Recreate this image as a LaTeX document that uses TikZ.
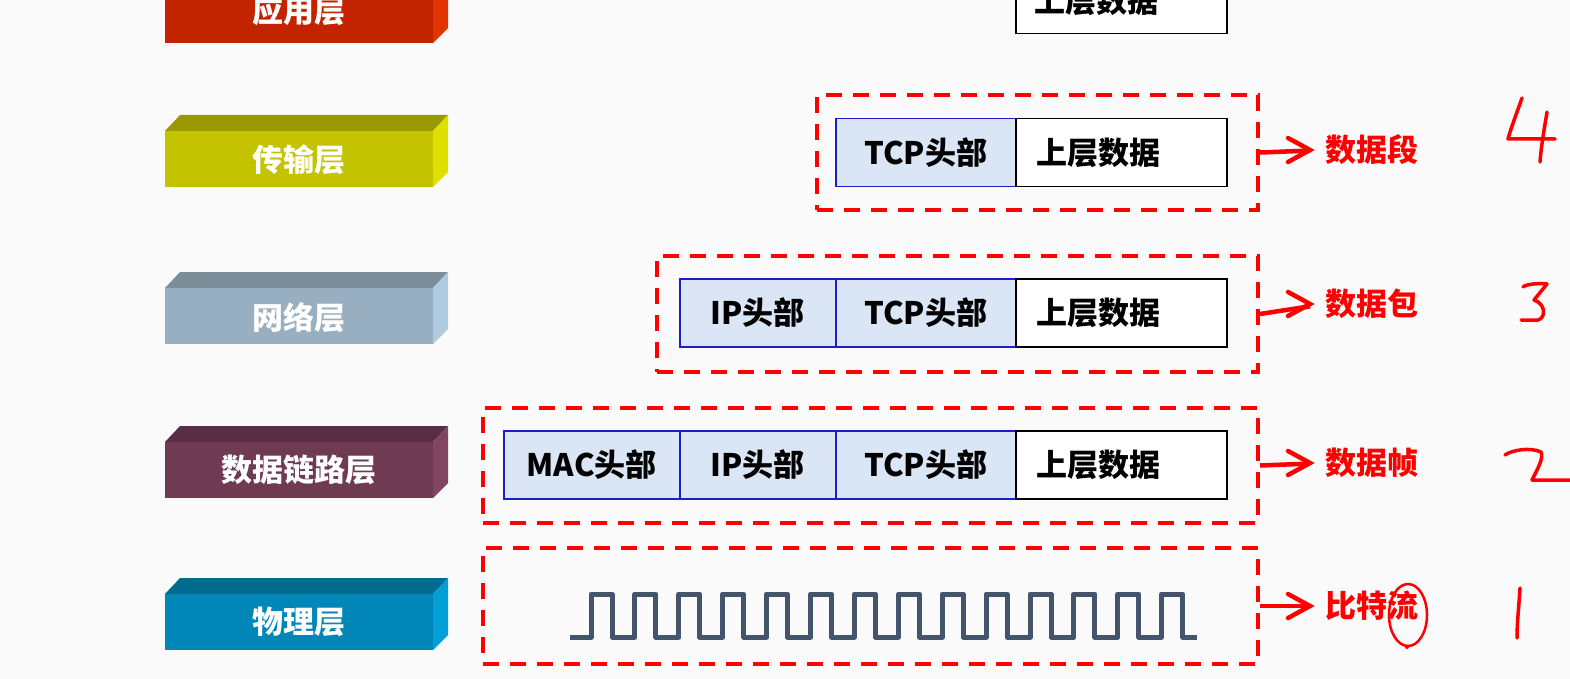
\documentclass[tikz,border=0pt]{standalone}
\usepackage{fontspec}
\newfontfamily\cjk{Noto Sans CJK SC}[UprightFont={* Black}]
\usetikzlibrary{arrows.meta}
\definecolor{bgc}{RGB}{250,250,250}
\definecolor{hdrfill}{RGB}{218,230,245}
\definecolor{hdrline}{RGB}{30,30,200}
\definecolor{wavec}{RGB}{68,84,106}
\definecolor{pen}{RGB}{255,0,0}
\definecolor{appF}{RGB}{195,36,0}\definecolor{appS}{RGB}{226,52,0}
\definecolor{traF}{RGB}{195,195,0}\definecolor{traT}{RGB}{153,153,0}\definecolor{traS}{RGB}{224,224,0}
\definecolor{netF}{RGB}{151,175,193}\definecolor{netT}{RGB}{125,142,155}\definecolor{netS}{RGB}{174,203,223}
\definecolor{dlF}{RGB}{110,59,82}\definecolor{dlT}{RGB}{89,45,69}\definecolor{dlS}{RGB}{129,68,99}
\definecolor{phF}{RGB}{0,135,184}\definecolor{phT}{RGB}{0,107,143}\definecolor{phS}{RGB}{0,159,214}
\tikzset{
  every node/.style={font=\cjk\fontsize{31}{31}\selectfont, inner sep=0pt},
  layertext/.style={text=white},
  hdr/.style={draw=hdrline, line width=1.5pt, fill=hdrfill, anchor=north west, minimum height=68pt},
  datacell/.style={draw=black, line width=1.5pt, fill=white, anchor=north west, minimum height=68pt, minimum width=211pt},
  dbox/.style={draw=pen, line width=4pt, dash pattern=on 16pt off 11pt, anchor=north west},
  redlabel/.style={text=pen, anchor=west},
  redarrow/.style={draw=pen, line width=4.5pt, shorten >=15pt},
  chevron/.style={draw=pen, line width=4.5pt, line cap=round, line join=miter},
  wave/.style={draw=wavec, line width=5pt, line join=round},
  hand/.style={draw=pen, line width=3.5pt, line cap=round, line join=round}
}
\begin{document}
\begin{tikzpicture}[x=1pt,y=-1pt]
\fill[bgc] (0,0) rectangle (1570,679);
\useasboundingbox (0,0) rectangle (1570,679);
% ---- layer bars ----
% application (cut at top)
\fill[appF] (165,-5) rectangle (433,43);
\fill[appS] (433,-5) -- (448,-5) -- (448,28) -- (433,43) -- cycle;
\node[layertext] (app) at (299,11) {应用层};
% transport
\fill[traT] (165,131) -- (180,115) -- (448,115) -- (433,131) -- cycle;
\fill[traF] (165,131) rectangle (433,187);
\fill[traS] (433,131) -- (448,115) -- (448,172) -- (433,187) -- cycle;
\node[layertext] (tra) at (299,160) {传输层};
% network
\fill[netT] (165,288) -- (180,272) -- (448,272) -- (433,288) -- cycle;
\fill[netF] (165,288) rectangle (433,344);
\fill[netS] (433,288) -- (448,272) -- (448,329) -- (433,344) -- cycle;
\node[layertext] (net) at (299,318) {网络层};
% data link
\fill[dlT] (165,442) -- (180,426) -- (448,426) -- (433,442) -- cycle;
\fill[dlF] (165,442) rectangle (433,498);
\fill[dlS] (433,442) -- (448,426) -- (448,483) -- (433,498) -- cycle;
\node[layertext] (dl) at (299,470) {数据链路层};
% physical
\fill[phT] (165,594) -- (180,578) -- (448,578) -- (433,594) -- cycle;
\fill[phF] (165,594) rectangle (433,650);
\fill[phS] (433,594) -- (448,578) -- (448,635) -- (433,650) -- cycle;
\node[layertext] (ph) at (299,622) {物理层};
% ---- data units ----
\node[datacell, minimum height=60pt] (d0) at (1015,-27) {};
\node (d0t) at (1096,1) {上层数据};
% transport
\node[hdr, minimum width=180pt] (t1) at (835,118) {TCP头部};
\node[datacell] (t2) at (1015,118) {\hspace*{-46pt}上层数据};
% network
\node[hdr, minimum width=156pt] (n1) at (679,278) {IP头部};
\node[hdr, minimum width=180pt] (n2) at (835,278) {TCP头部};
\node[datacell] (n3) at (1015,278) {\hspace*{-46pt}上层数据};
% data link
\node[hdr, minimum width=176pt] (l1) at (503,430) {MAC头部};
\node[hdr, minimum width=156pt] (l2) at (679,430) {IP头部};
\node[hdr, minimum width=180pt] (l3) at (835,430) {TCP头部};
\node[datacell] (l4) at (1015,430) {\hspace*{-46pt}上层数据};
% ---- dashed groups ----
\node[dbox, minimum width=441pt, minimum height=115pt] (gseg) at (815,93) {};
\node[dbox, minimum width=601pt, minimum height=116pt] (gpkt) at (655,254) {};
\node[dbox, minimum width=775pt, minimum height=115pt] (gfrm) at (481,406) {};
\node[dbox, minimum width=775pt, minimum height=116pt] (gbit) at (481,546) {};
% ---- labels ----
\node[redlabel] (lseg) at (1325,150) {数据段};
\node[redlabel] (lpkt) at (1325,304) {数据包};
\node[redlabel] (lfrm) at (1325,463) {数据帧};
\node[redlabel] (lbit) at (1325,606) {比特流};
\foreach \g/\l in {gseg/lseg, gpkt/lpkt, gfrm/lfrm, gbit/lbit} {
  \draw[redarrow] (\g.east) -- (\l.west);
  \draw[chevron] ([shift={(-37,-12)}]\l.west) -- ([shift={(-15,0)}]\l.west) -- ([shift={(-37,12)}]\l.west);
}
% ---- square wave ----
\draw[wave] (570,637) foreach \i in {0,...,13} { -- ({591+43.9*\i},637) -- ({591+43.9*\i},594) -- ({612+43.9*\i},594) -- ({612+43.9*\i},637) } -- (1197,637);
% ---- handwriting ----
\draw[hand] (1522,98) .. controls (1516,115) and (1511,128) .. (1508,139) -- (1555,139);
\draw[hand] (1547,112) .. controls (1544,130) and (1541,148) .. (1540,162);
\draw[hand] (1523,287) .. controls (1526,284) and (1540,283) .. (1547,284) -- (1534,300) .. controls (1546,304) and (1546,318) .. (1538,320) -- (1521,320);
\draw[hand] (1505,455) .. controls (1512,450) and (1530,447) .. (1541,452) .. controls (1544,458) and (1537,470) .. (1532,480) -- (1570,480);
\draw[hand] (1520,588) .. controls (1519,605) and (1517,622) .. (1517,638);
\draw[pen, line width=2.5pt] (1408,615) ellipse [x radius=19pt, y radius=31pt];
\fill[pen] (1407,647) circle (2pt);
\end{tikzpicture}
\end{document}
